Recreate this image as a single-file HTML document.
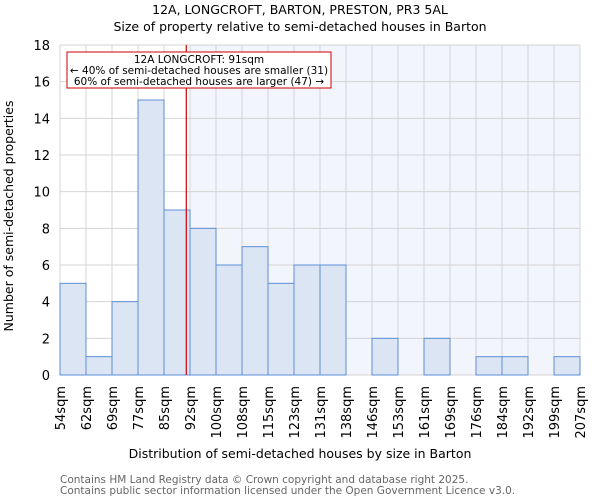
<!DOCTYPE html>
<html><head><meta charset="utf-8"><style>
body{margin:0;background:#fff}
svg{display:block;font-family:"DejaVu Sans","Liberation Sans",sans-serif}
</style></head><body>
<svg id="c" width="600" height="500">
<text x="300" y="14" text-anchor="middle" font-size="12.5">12A, LONGCROFT, BARTON, PRESTON, PR3 5AL</text>
<text x="300" y="31" text-anchor="middle" font-size="12.5">Size of property relative to semi-detached houses in Barton</text>
<g id="plot"></g>
<text x="300" y="458" text-anchor="middle" font-size="12.5">Distribution of semi-detached houses by size in Barton</text>
<text transform="translate(13,216) rotate(-90)" text-anchor="middle" font-size="12.5">Number of semi-detached properties</text>
<text x="60" y="483" font-size="10.5" fill="#666">Contains HM Land Registry data © Crown copyright and database right 2025.</text>
<text x="60" y="494" font-size="10.5" fill="#666">Contains public sector information licensed under the Open Government Licence v3.0.</text>
</svg>
<script>
const edgeLabels=["54sqm","62sqm","69sqm","77sqm","85sqm","92sqm","100sqm","108sqm","115sqm","123sqm","131sqm","138sqm","146sqm","153sqm","161sqm","169sqm","176sqm","184sqm","192sqm","199sqm","207sqm"];
const counts=[5,1,4,15,9,8,6,7,5,6,6,0,2,0,2,0,1,1,0,1];
const yTicks=[0,2,4,6,8,10,12,14,16,18];
const markerBin=4, markerFrac=6/7;
const X0=60,X1=580,Y0=375,Y1=45,YMAX=18;
const NS="http://www.w3.org/2000/svg";
const g=document.getElementById('plot');
const n=counts.length, bw=(X1-X0)/n;
const xs=i=>X0+i*bw, ys=v=>Y0-(Y0-Y1)*v/YMAX;
function mk(t,a,p){const e=document.createElementNS(NS,t);for(const k in a)e.setAttribute(k,a[k]);(p||g).appendChild(e);return e;}
const mx=xs(markerBin+markerFrac);
const sh=mk('rect',{x:xs(markerBin+1),y:Y1,width:X1-xs(markerBin+1),height:Y0-Y1,fill:'#f3f5fc'});


for(let i=0;i<=n;i++){mk('line',{x1:xs(i),x2:xs(i),y1:Y1,y2:Y0,stroke:'#d4d4d4','stroke-width':1});}
yTicks.forEach(v=>{mk('line',{x1:X0,x2:X1,y1:ys(v),y2:ys(v),stroke:'#d4d4d4','stroke-width':1});
const t=mk('text',{x:X0-10,y:ys(v)+5,'text-anchor':'end','font-size':13});t.textContent=v;

});
counts.forEach((c,i)=>{if(c<=0)return;
const r=mk('rect',{x:xs(i),y:ys(c),width:bw,height:Y0-ys(c),fill:'#dce5f4',stroke:'#5b8fd6','stroke-width':1});

});
edgeLabels.forEach((l,i)=>{const t=mk('text',{transform:`translate(${xs(i)+5},386) rotate(-90)`,'text-anchor':'end','font-size':13});t.textContent=l;

});
const ml=mk('line',{x1:mx,x2:mx,y1:Y1,y2:Y0,stroke:'#cc0000','stroke-width':1.2});


const box=mk('g',{});


mk('rect',{x:67,y:52,width:264,height:36,fill:'#fff',stroke:'#cc0000','stroke-width':1},box);
[["12A LONGCROFT: 91sqm",63],["← 40% of semi-detached houses are smaller (31)",74],["60% of semi-detached houses are larger (47) →",85]].forEach(([s,y])=>{const t=mk('text',{x:199,y:y,'text-anchor':'middle','font-size':10.5},box);t.textContent=s;});
</script>
</body></html>
